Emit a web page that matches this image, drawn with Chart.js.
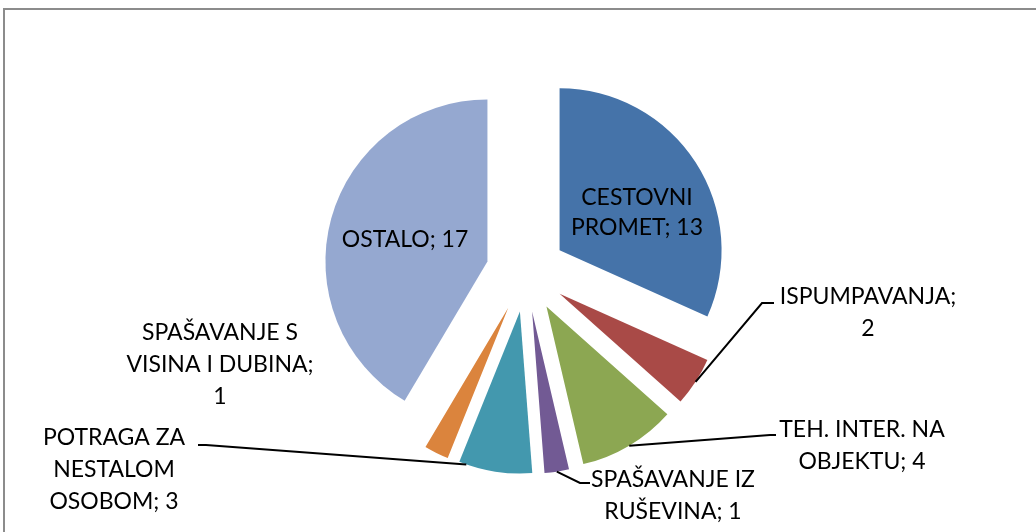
<!DOCTYPE html>
<html>
<head>
<meta charset="utf-8">
<script src="https://cdn.jsdelivr.net/npm/chart.js@4/dist/chart.umd.min.js"></script>
<style>
  html, body { margin: 0; padding: 0; background: #fff; }
</style>
</head>
<body>
<canvas id="myChart" width="1036" height="532"></canvas>
<script>
const categories = [
  "CESTOVNI PROMET",
  "ISPUMPAVANJA",
  "TEH. INTER. NA OBJEKTU",
  "SPAŠAVANJE IZ RUŠEVINA",
  "POTRAGA ZA NESTALOM OSOBOM",
  "SPAŠAVANJE S VISINA I DUBINA",
  "OSTALO",
];
const counts = [13, 2, 4, 1, 3, 1, 17];
const colors = ["#4573A9", "#A94A47", "#8CA752", "#725A94", "#4398AE", "#DB843D", "#95A8D0"];

// where each data label sits: centre x, first line y, wrap width, optional leader line
const labelLayout = [
  { x: 637, y: 198, wrap: 140, lh: 30 },
  { x: 868, y: 297, wrap: 185, leader: { at: 0.5, elbow: [762, 303], end: [774, 303] } },
  { x: 862, y: 430, wrap: 170, leader: { at: 0.5, elbow: [770, 435], end: [776, 435] } },
  { x: 673, y: 480, wrap: 170, leader: { at: 0.5, elbow: [580, 483], end: [590, 483] } },
  { x: 114, y: 438, wrap: 165, leader: { at: 0.9, elbow: [206, 445], end: [198, 445] } },
  { x: 220, y: 333, wrap: 192 },
  { x: 405, y: 240, wrap: 200 },
];

const EXPLODE = 40;
const FONT = "23px Lato";

function wrapText(ctx, text, width) {
  const words = text.split(" ");
  const lines = [];
  let line = "";
  words.forEach((w) => {
    const test = line ? line + " " + w : w;
    if (line && ctx.measureText(test).width > width) {
      lines.push(line);
      line = w;
    } else {
      line = test;
    }
  });
  if (line) lines.push(line);
  return lines;
}

const explodedPie = {
  id: "explodedPie",
  beforeDatasetsDraw(chart) {
    const ctx = chart.ctx;
    chart.getDatasetMeta(0).data.forEach((arc) => {
      const mid = (arc.startAngle + arc.endAngle) / 2;
      ctx.save();
      ctx.translate(Math.cos(mid) * EXPLODE, Math.sin(mid) * EXPLODE);
      arc.draw(ctx);
      ctx.restore();
    });
    return false;
  },
  afterDraw(chart) {
    const ctx = chart.ctx;
    ctx.save();
    // outer frame
    ctx.strokeStyle = "#8c8c8c";
    ctx.lineWidth = 2;
    ctx.beginPath();
    ctx.moveTo(4, 532);
    ctx.lineTo(4, 9);
    ctx.lineTo(1036, 9);
    ctx.stroke();

    ctx.font = FONT;
    ctx.fillStyle = "#000";
    ctx.textAlign = "center";
    ctx.textBaseline = "middle";
    ctx.strokeStyle = "#000";
    ctx.lineWidth = 2;
    chart.getDatasetMeta(0).data.forEach((arc, i) => {
      const lay = labelLayout[i];
      const lines = wrapText(ctx, categories[i] + "; " + counts[i], lay.wrap);
      const lh = lay.lh || 32;
      lines.forEach((t, k) => ctx.fillText(t, lay.x, lay.y + k * lh));
      if (lay.leader) {
        const mid = (arc.startAngle + arc.endAngle) / 2;
        const a = arc.startAngle + lay.leader.at * (arc.endAngle - arc.startAngle);
        const cx = arc.x + Math.cos(mid) * EXPLODE;
        const cy = arc.y + Math.sin(mid) * EXPLODE;
        ctx.beginPath();
        ctx.moveTo(cx + Math.cos(a) * arc.outerRadius, cy + Math.sin(a) * arc.outerRadius);
        ctx.lineTo(lay.leader.elbow[0], lay.leader.elbow[1]);
        ctx.lineTo(lay.leader.end[0], lay.leader.end[1]);
        ctx.stroke();
      }
    });
    ctx.restore();
  },
};

const chart1 = document.getElementById("myChart");
new Chart(chart1, {
  type: "pie",
  data: {
    labels: categories,
    datasets: [
      {
        data: counts,
        backgroundColor: colors,
        borderWidth: 0,
        hoverOffset: 0,
      },
    ],
  },
  options: {
    responsive: false,
    animation: false,
    layout: {
      padding: { top: 110, bottom: 98, left: 200, right: 184 },
    },
    plugins: {
      legend: { display: false },
      tooltip: { enabled: false },
    },
  },
  plugins: [explodedPie],
});
</script>
</body>
</html>
